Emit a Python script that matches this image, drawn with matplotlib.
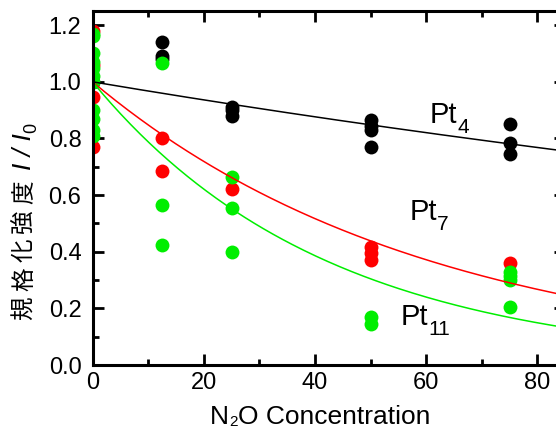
import numpy as np
import matplotlib
matplotlib.use('Agg')
import matplotlib.pyplot as plt
from matplotlib.ticker import MultipleLocator

# data (N2O concentration, normalized intensity)
pt4_x = [0, 12.5, 12.5, 12.5, 25, 25, 25, 50, 50, 50, 50, 75, 75, 75]
pt4_y = [1.0, 1.14, 1.09, 1.08, 0.91, 0.90, 0.88, 0.865, 0.845, 0.83, 0.77, 0.85, 0.785, 0.745]

pt7_x = [0, 0, 0, 0, 12.5, 12.5, 25, 50, 50, 50, 75]
pt7_y = [1.18, 1.06, 0.945, 0.77, 0.80, 0.685, 0.62, 0.415, 0.395, 0.37, 0.36]

pt11_x = [0, 0, 0, 0, 0, 0, 0, 0, 0, 0, 0,
          12.5, 12.5, 12.5, 25, 25, 25, 50, 50, 75, 75, 75, 75]
pt11_y = [1.17, 1.16, 1.10, 1.07, 1.05, 1.02, 1.0, 0.90, 0.87, 0.83, 0.81,
          1.065, 0.565, 0.425, 0.665, 0.555, 0.40, 0.17, 0.145, 0.33, 0.315, 0.30, 0.205]

# exponential decay fits  I/I0 = exp(-k*c)
k_fit = {'Pt4': 0.0033, 'Pt7': 0.0165, 'Pt11': 0.0238}

SANS = 'Liberation Sans'
CJK = 'Noto Sans CJK JP'
plt.rcParams['font.family'] = [SANS, CJK]

W, H = 556, 432
fig = plt.figure( figsize=(W / 100, H / 100), dpi=100 )
# axes placed in pixels; the right spine falls just outside the canvas
ax = fig.add_axes( [92.5 / W, 67 / H, 472.8 / W, 354 / H] )
renderer = fig.canvas.get_renderer()


def put_runs( xy, coords, runs, rotation=0 ):
    # write text pieces one after another (used for the deep subscripts)
    # run = (text, size, drop_px, style, family, fixed advance px or None)
    adv = 0.0
    for txt, size, drop, style, family, step in runs:
        off = (adv, -drop) if rotation == 0 else (drop, adv)
        t = ax.annotate( txt, xy=xy, xycoords=coords, xytext=off, textcoords='offset pixels',
                         fontsize=size, style=style, family=family, ha='left', va='baseline',
                         rotation=rotation, rotation_mode='anchor', annotation_clip=False )
        if step is None:
            bb = t.get_window_extent( renderer )
            step = bb.width if rotation == 0 else bb.height
        adv += step


green = '#00ee00'
ax.plot( pt4_x, pt4_y, 'o', color='black', ms=10, mew=0 )
ax.plot( pt7_x, pt7_y, 'o', color='red', ms=10, mew=0 )
ax.plot( pt11_x, pt11_y, 'o', color=green, ms=10, mew=0 )

xf = np.linspace( 0, 85, 200 )
ax.plot( xf, np.exp( -k_fit['Pt4'] * xf ), color='black', lw=1.1 )
ax.plot( xf, np.exp( -k_fit['Pt7'] * xf ), color='red', lw=1.1 )
ax.plot( xf, np.exp( -k_fit['Pt11'] * xf ), color=green, lw=1.1 )

ax.set_xlim( 0, 85 )
ax.set_ylim( 0, 1.25 )

# curve labels
put_runs( (60.6, 0.853), 'data', [('Pt', 21, 0, 'normal', SANS, None), ('4', 15, 10, 'normal', SANS, None)] )
put_runs( (57.0, 0.512), 'data', [('Pt', 21, 0, 'normal', SANS, None), ('7', 15, 10, 'normal', SANS, None)] )
put_runs( (55.45, 0.141), 'data', [('Pt', 21, 0, 'normal', SANS, None), ('11', 15, 10, 'normal', SANS, None)] )

ax.xaxis.set_major_locator( MultipleLocator( 20 ) )
ax.xaxis.set_minor_locator( MultipleLocator( 10 ) )
ax.yaxis.set_major_locator( MultipleLocator( 0.2 ) )
ax.yaxis.set_minor_locator( MultipleLocator( 0.1 ) )
ax.yaxis.set_major_formatter( plt.FormatStrFormatter( '%.1f' ) )

for s in ax.spines.values():
    s.set_linewidth( 2.2 )
ax.tick_params( which='both', direction='in', top=True, right=True, width=2.0, labelsize=17 )
ax.tick_params( which='major', length=8 )
ax.tick_params( which='minor', length=4.5 )
ax.tick_params( axis='x', pad=5 )
ax.tick_params( axis='y', pad=8 )

# x label, subscript kept just inside the bottom edge
put_runs( (210, 7.5), 'figure pixels',
          [('N', 19, 0, 'normal', SANS, None), ('2', 11, 1.5, 'normal', SANS, None),
           ('O Concentration', 19, 0, 'normal', SANS, None)] )

# y label, written bottom to top
ylab_cjk = '規格化強度'
yruns = [(ch, 17, 0, 'normal', CJK, 29) for ch in ylab_cjk]
yruns[-1] = (ylab_cjk[-1], 17, 0, 'normal', CJK, 34)
yruns += [('I / I', 19, 0, 'italic', SANS, None), ('0', 13, 5, 'normal', SANS, None)]
put_runs( (31, 112), 'figure pixels', yruns, rotation=90 )

fig.savefig( 'out.png', dpi=100 )
